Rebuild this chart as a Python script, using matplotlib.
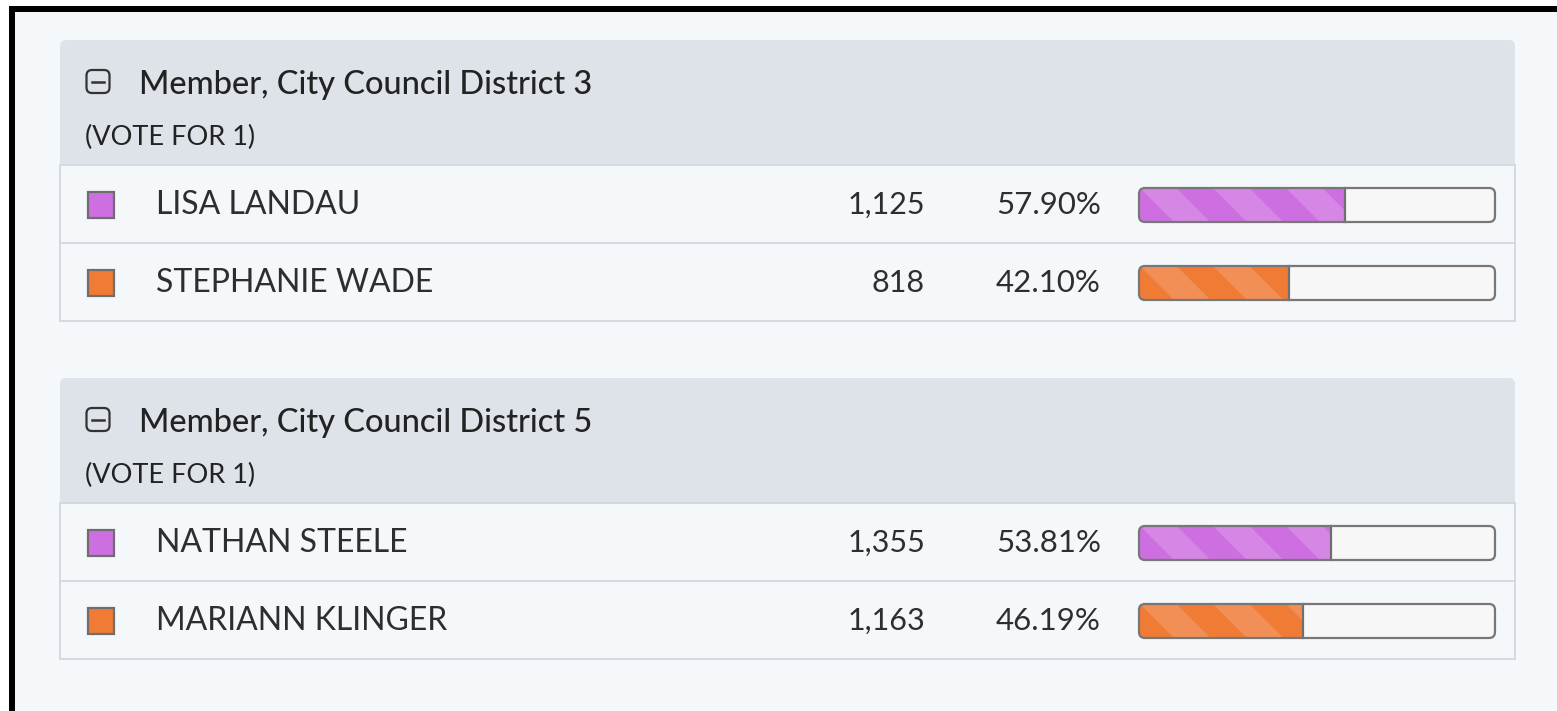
import matplotlib
matplotlib.use("Agg")
import matplotlib.pyplot as plt
from matplotlib.patches import FancyBboxPatch, Rectangle, Polygon

plt.rcParams['font.family'] = ['Lato', 'DejaVu Sans']

# ---- data ----
contests = ["Member, City Council District 3", "Member, City Council District 5"]
vote_for = ["(VOTE FOR 1)", "(VOTE FOR 1)"]
candidates = [["LISA LANDAU", "STEPHANIE WADE"], ["NATHAN STEELE", "MARIANN KLINGER"]]
votes = [[1125, 818], [1355, 1163]]
percents = [[57.90, 42.10], [53.81, 46.19]]
cand_colors = [["#CD6EE1", "#F07B35"], ["#CD6EE1", "#F07B35"]]
stripe_colors = {"#CD6EE1": "#D686E5", "#F07B35": "#F28F57"}

W, H = 1557, 711
fig = plt.figure(figsize=(W / 100, H / 100), dpi=100)
fig.patch.set_facecolor("white")
ax = fig.add_axes([0, 0, 1, 1])
ax.set_xlim(0, W)
ax.set_ylim(H, 0)
ax.axis("off")

BG = "#F5F8FB"
HEADER = "#DEE2E9"
BORDER = "#D3D6DA"
TXT = "#2E2E2E"

# page background and black frame
ax.add_patch(Rectangle((9, 6), W - 9, H - 6, facecolor="black", edgecolor="none", zorder=0))
ax.add_patch(Rectangle((15, 12), W - 15, H - 12, facecolor=BG, edgecolor="none", zorder=0.5))

px0, px1 = 60, 1515
panel_tops = [40, 378]
header_h = 125
row_h = 78
bar_x0, bar_x1 = 1139, 1495
bar_h = 34
period, half = 73, 36.5


def clip_halfplane(poly, xmax):
    out = []
    n = len(poly)
    for i in range(n):
        p, q = poly[i], poly[(i + 1) % n]
        pin, qin = p[0] <= xmax, q[0] <= xmax
        if pin:
            out.append(p)
        if pin != qin:
            t = (xmax - p[0]) / (q[0] - p[0])
            out.append((xmax, p[1] + t * (q[1] - p[1])))
    return out


for ci, title in enumerate(contests):
    top = panel_tops[ci]
    hb = top + header_h
    n = len(candidates[ci])
    # header
    ax.add_patch(FancyBboxPatch((px0, top), px1 - px0, header_h + 8,
                                boxstyle="round,pad=0,rounding_size=6",
                                facecolor=HEADER, edgecolor="none", zorder=1))
    ax.add_patch(Rectangle((px0, hb), px1 - px0, n * row_h, facecolor=BG,
                           edgecolor=BORDER, linewidth=1.3, zorder=1.2))
    # collapse icon
    ax.add_patch(FancyBboxPatch((86.5, top + 30), 23, 23,
                                boxstyle="round,pad=0,rounding_size=5.5",
                                facecolor="none", edgecolor="#333333", linewidth=1.6, zorder=2))
    ax.plot([92, 104], [top + 41.5, top + 41.5], color="#333333", lw=1.8, zorder=2)
    ax.text(139, top + 45, title, fontsize=23.5, color="#222222", va="center", ha="left",
            fontweight="medium", zorder=3)
    ax.text(85, top + 97, vote_for[ci], fontsize=19.5, color="#222222", va="center",
            ha="left", zorder=3)

    for ri in range(n):
        ry = hb + ri * row_h
        cy = ry + row_h / 2 + 1
        if ri > 0:
            ax.plot([px0, px1], [ry, ry], color=BORDER, lw=1.3, zorder=1.5)
        col = cand_colors[ci][ri]
        ax.add_patch(Rectangle((88, cy - 13), 26, 26, facecolor=col, edgecolor="#6E6E6E",
                               linewidth=1.6, zorder=2))
        ax.text(156, cy, candidates[ci][ri], fontsize=23, color=TXT, va="center",
                ha="left", zorder=3)
        ax.text(925, cy, f"{votes[ci][ri]:,}", fontsize=22, color=TXT, va="center",
                ha="right", zorder=3)
        ax.text(1101, cy, f"{percents[ci][ri]:.2f}%", fontsize=22.5, color=TXT,
                va="center", ha="right", zorder=3)

        # progress bar
        y0 = cy - bar_h / 2
        y1 = cy + bar_h / 2
        bw = bar_x1 - bar_x0
        shell = FancyBboxPatch((bar_x0, y0), bw, bar_h,
                               boxstyle="round,pad=0,rounding_size=6",
                               facecolor="#F7F7F7", edgecolor="none", zorder=2)
        ax.add_patch(shell)
        xe = bar_x0 + bw * percents[ci][ri] / 100.0
        fill = Rectangle((bar_x0, y0), xe - bar_x0, bar_h, facecolor=col,
                         edgecolor="none", zorder=2.1)
        ax.add_patch(fill)
        fill.set_clip_path(shell)
        k = 0
        while True:
            s = bar_x0 + 1 + k * period
            if s - bar_h > xe:
                break
            poly = [(s, y0), (s + half, y0), (s + half + bar_h, y1), (s + bar_h, y1)]
            poly = clip_halfplane(poly, xe)
            if len(poly) >= 3:
                sp = Polygon(poly, closed=True, facecolor=stripe_colors[col],
                             edgecolor="none", zorder=2.2)
                ax.add_patch(sp)
                sp.set_clip_path(shell)
            k += 1
        ax.plot([xe, xe], [y0, y1], color="#6F6F6F", lw=1.6, zorder=2.3)
        ax.add_patch(FancyBboxPatch((bar_x0, y0), bw, bar_h,
                                    boxstyle="round,pad=0,rounding_size=6",
                                    facecolor="none", edgecolor="#777777",
                                    linewidth=1.6, zorder=2.4))

fig.savefig("out.png", dpi=100, facecolor="white")
